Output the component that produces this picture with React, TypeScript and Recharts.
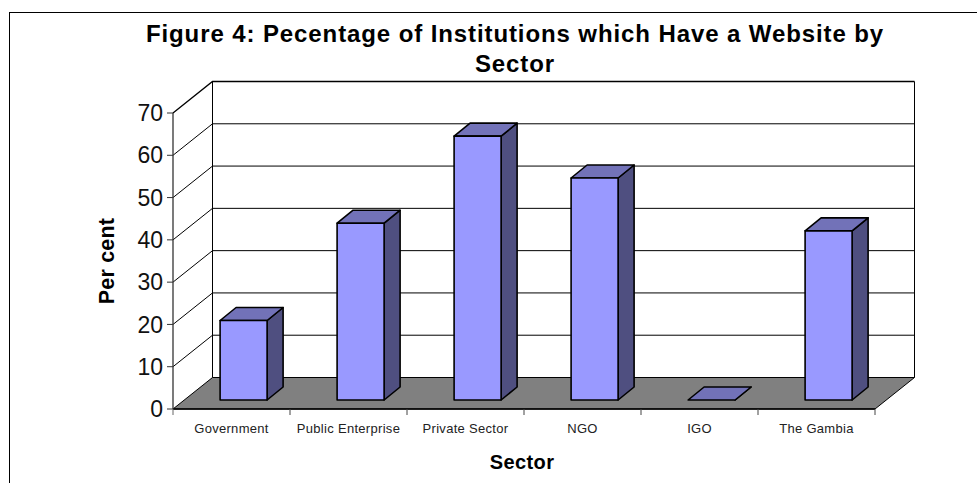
import { Bar, BarChart, CartesianGrid, XAxis, YAxis } from "recharts";

const sectors = ["Government", "Public Enterprise", "Private Sector", "NGO", "IGO", "The Gambia"];
const percentages = [18.8, 41.8, 62.4, 52.5, 0, 40];
const percentTicks = [0, 10, 20, 30, 40, 50, 60, 70];

const data = sectors.map((sector, i) => ({ sector, percent: percentages[i] }));

// depth of the back wall relative to the front plane
const DEPTH_X = 39.5;
const DEPTH_Y = -31.5;
// bars sit part way into the floor and have their own depth
const BAR_OFFSET_X = 12;
const BAR_OFFSET_Y = -9;
const BAR_DEPTH_X = 16;
const BAR_DEPTH_Y = -13;

function WallLine(props: any) {
  const { x1, x2, y1, index } = props;
  const isFloor = Math.abs(y1 - 409) < 1;
  const isTop = Math.abs(y1 - 113) < 1;
  const backY = y1 + DEPTH_Y;
  const backLeft = x1 + DEPTH_X;
  const backRight = x2 + DEPTH_X;
  if (isFloor) {
    return (
      <g key={`floor-${index}`}>
        <polygon
          points={`${x1},${y1} ${backLeft},${backY} ${backRight},${backY} ${x2},${y1}`}
          fill="#808080"
          stroke="#000"
          strokeWidth={1}
        />
      </g>
    );
  }
  return (
    <g key={`wall-${index}`}>
      <polyline
        points={`${x1},${y1} ${backLeft},${backY} ${backRight},${backY}`}
        fill="none"
        stroke="#000"
        strokeWidth={isTop ? 1.3 : 1}
      />
      {isTop && (
        <>
          <line x1={backLeft} y1={backY} x2={backLeft} y2={377.5} stroke="#000" />
          <line x1={backRight} y1={backY} x2={backRight} y2={377.5} stroke="#000" />
        </>
      )}
    </g>
  );
}

function Bar3D(props: any) {
  const { x, y, width, height } = props;
  const left = x + BAR_OFFSET_X;
  const right = left + width;
  const top = y + BAR_OFFSET_Y;
  const bottom = top + height;
  const dx = BAR_DEPTH_X;
  const dy = BAR_DEPTH_Y;
  const outline = { stroke: "#000", strokeWidth: 1.6, strokeLinejoin: "round" as const };
  return (
    <g>
      <polygon
        points={`${right},${top} ${right + dx},${top + dy} ${right + dx},${bottom + dy} ${right},${bottom}`}
        fill="#4F4F80"
        {...outline}
      />
      <polygon
        points={`${left},${top} ${left + dx},${top + dy} ${right + dx},${top + dy} ${right},${top}`}
        fill="#7272B8"
        {...outline}
      />
      {height > 0 && <rect x={left} y={top} width={width} height={height} fill="#9999FF" {...outline} />}
    </g>
  );
}

function SectorTick(props: any) {
  const { x, payload, index } = props;
  const band = 117;
  const edge = x + band / 2;
  return (
    <g>
      {index === 0 && <line x1={x - band / 2} y1={409} x2={x - band / 2} y2={415} stroke="#666" />}
      <line x1={edge} y1={409} x2={edge} y2={415} stroke="#444" />
      <text x={x} y={433} textAnchor="middle" fontSize={13} letterSpacing={0.3} fill="#222" fontFamily="Liberation Sans">
        {payload.value}
      </text>
    </g>
  );
}

export default function App() {
  return (
    <div style={{ position: "absolute", left: 0, top: 0, width: 977, height: 483, background: "#fff", overflow: "hidden" }}>
      <div style={{ position: "absolute", left: 9, top: 12, width: 968, height: 471, borderLeft: "1px solid #000", borderTop: "1px solid #000" }} />
      <div
        style={{
          position: "absolute",
          left: 115,
          top: 19,
          width: 800,
          textAlign: "center",
          fontFamily: "Liberation Sans",
          fontWeight: "bold",
          fontSize: 24,
          letterSpacing: 0.9,
          lineHeight: "30px",
          color: "#000",
        }}
      >
        Figure 4: Pecentage of Institutions which Have a Website by
        <br />
        Sector
      </div>
      <div style={{ position: "absolute", left: 0, top: 0 }}>
        <BarChart
          width={977}
          height={483}
          data={data}
          margin={{ top: 113, right: 102, bottom: 0, left: 113 }}
          barCategoryGap="30%"
        >
          <CartesianGrid vertical={false} horizontal={WallLine} />
          <XAxis
            dataKey="sector"
            axisLine={{ stroke: "#000", strokeWidth: 1.3 }}
            tickLine={false}
            tick={SectorTick}
            interval={0}
            height={74}
            label={{
              value: "Sector",
              position: "insideBottom",
              offset: 14,
              dx: -2,
              style: { fontFamily: "Liberation Sans", fontWeight: "bold", fontSize: 20, letterSpacing: 0.4, fill: "#000" },
            }}
          />
          <YAxis
            type="number"
            domain={[0, 70]}
            ticks={percentTicks}
            width={60}
            axisLine={{ stroke: "#333", strokeWidth: 1.3 }}
            tickLine={{ stroke: "#333" }}
            tickSize={6}
            tickMargin={4}
            tick={{ fontFamily: "Liberation Sans", fontSize: 23, fill: "#111" }}
            label={{
              value: "Per cent",
              angle: -90,
              position: "insideLeft",
              offset: -7,
              style: { fontFamily: "Liberation Sans", fontWeight: "bold", fontSize: 21.5, letterSpacing: 0.2, fill: "#000", textAnchor: "middle" },
            }}
          />
          <Bar dataKey="percent" shape={Bar3D} isAnimationActive={false} />
        </BarChart>
      </div>
    </div>
  );
}
